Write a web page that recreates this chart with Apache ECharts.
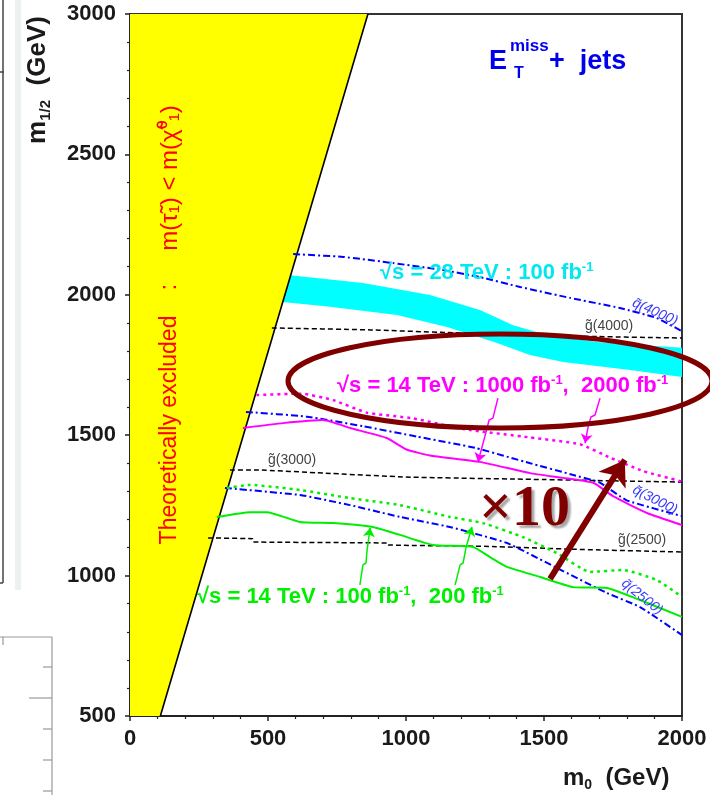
<!DOCTYPE html>
<html>
<head>
<meta charset="utf-8">
<script src="https://cdn.jsdelivr.net/npm/echarts@6/dist/echarts.min.js"></script>
<style>
    html, body { margin: 0; padding: 0; background: #fff; }
    #chartView { width: 710px; height: 795px; }
</style>
</head>
<body>
<div id="chartView"></div>
<script>
    // axis ticks
    var xTicks = [0, 500, 1000, 1500, 2000];
    var yTicks = [500, 1000, 1500, 2000, 2500, 3000];

    // theoretically excluded region (m0, m1/2)
    var excludedRegion = [[0, 500], [110, 500], [862, 3000], [0, 3000]];
    var excludedEdge = [[110, 500], [862, 3000]];

    // sqrt(s)=28 TeV, 100 fb-1 band
    var band28Upper = [[580, 2070], [844, 2042], [1087, 1999], [1268, 1946], [1388, 1892], [1511, 1857], [1692, 1832], [2000, 1811]];
    var band28Lower = [[553, 1974], [725, 1957], [967, 1928], [1149, 1885], [1330, 1828], [1449, 1786], [1569, 1761], [1812, 1732], [2000, 1707]];

    // iso-mass lines
    var squark4000 = [[591, 2145], [772, 2135], [953, 2113], [1134, 2088], [1268, 2063], [1413, 2028], [1594, 1989], [1775, 1953], [1909, 1917], [2000, 1870]];
    var gluino4000 = [[514, 1882], [870, 1875], [1196, 1864], [1600, 1853], [2000, 1846]];
    var squark3000 = [[420, 1583], [640, 1566], [844, 1532], [1040, 1495], [1250, 1455], [1450, 1400], [1600, 1360], [1700, 1332], [1800, 1268], [2000, 1212]];
    var gluino3000 = [[362, 1376], [460, 1376], [700, 1365], [1000, 1351], [1500, 1342], [2000, 1333]];
    var squark2500 = [[344, 1312], [616, 1287], [797, 1251], [978, 1209], [1159, 1173], [1366, 1116], [1547, 1027], [1728, 938], [1848, 888], [2000, 788]];
    var gluino2500 = [[283, 1134], [444, 1131], [446, 1120], [933, 1116], [935, 1109], [1300, 1104], [1600, 1094], [2000, 1084]];

    // 14 TeV reach curves
    var reach2000 = [[458, 1643], [620, 1648], [736, 1625], [859, 1580], [1025, 1560], [1207, 1522], [1449, 1492], [1630, 1468], [1740, 1420], [1860, 1372], [2000, 1335]];
    var reach1000 = [[409, 1526], [554, 1543], [700, 1554], [800, 1525], [930, 1490], [1004, 1448], [1087, 1428], [1268, 1405], [1449, 1365], [1569, 1348], [1680, 1330], [1750, 1283], [1873, 1223], [2000, 1180]];
    var reach200 = [[351, 1312], [435, 1323], [616, 1305], [797, 1276], [978, 1251], [1159, 1209], [1279, 1187], [1424, 1137], [1547, 1080], [1667, 1013], [1786, 1020], [1909, 984], [2000, 924]];
    var reach100 = [[315, 1209], [435, 1226], [496, 1226], [616, 1191], [736, 1187], [880, 1173], [978, 1145], [1098, 1109], [1243, 1102], [1304, 1066], [1366, 1031], [1486, 995], [1605, 959], [1728, 956], [1848, 913], [2000, 853]];

    // annotation arrows (shaft polyline, then head segment)
    var magentaShaft1 = [[1333, 1632], [1315, 1561], [1301, 1554], [1290, 1511]];
    var magentaHead1 = [[1290, 1511], [1261, 1405]];
    var magentaShaft2 = [[1703, 1632], [1685, 1572], [1670, 1565], [1659, 1526]];
    var magentaHead2 = [[1659, 1526], [1649, 1472]];
    var greenShaft1 = [[833, 967], [844, 1038], [855, 1045], [859, 1091]];
    var greenHead1 = [[859, 1091], [870, 1170]];
    var greenShaft2 = [[1178, 967], [1196, 1038], [1207, 1045], [1217, 1098]];
    var greenHead2 = [[1217, 1098], [1239, 1173]];
    var bigArrow = [[1522, 988], [1793, 1412]];

    var theFont = '"Liberation Sans", Arial, sans-serif';

    function polygonSeries(name, points, color, z) {
        return {
            name: name,
            type: 'custom',
            coordinateSystem: 'cartesian2d',
            silent: true,
            z: z,
            data: [points[0]],
            renderItem: function (params, api) {
                return {
                    type: 'polygon',
                    shape: { points: points.map(function (p) { return api.coord(p); }) },
                    style: { fill: color, stroke: 'none' }
                };
            }
        };
    }

    function curve(name, data, color, dash, width) {
        return {
            name: name,
            type: 'line',
            data: data,
            symbol: 'none',
            showSymbol: false,
            smooth: 0.15,
            silent: true,
            z: 4,
            lineStyle: { color: color, width: width, type: dash }
        };
    }

    function arrowLines(shafts, heads, color, width, headSize) {
        return [{
            type: 'lines',
            coordinateSystem: 'cartesian2d',
            polyline: true,
            silent: true,
            z: 6,
            lineStyle: { color: color, width: width, opacity: 1 },
            data: shafts.map(function (s) { return { coords: s }; })
        }, {
            type: 'lines',
            coordinateSystem: 'cartesian2d',
            silent: true,
            z: 6,
            symbol: ['none', 'arrow'],
            symbolSize: headSize,
            lineStyle: { color: color, width: width, opacity: 1 },
            data: heads.map(function (s) { return { coords: s }; })
        }];
    }

    function txt(x, y, text, font, color, extra) {
        var el = {
            type: 'text', x: x, y: y, z: 50, silent: true,
            style: {
                text: text, font: font, fill: color,
                textAlign: 'left', textVerticalAlign: 'middle', align: 'left', verticalAlign: 'middle'
            }
        };
        if (extra) {
            for (var k in extra) {
                if (k === 'style') {
                    for (var s in extra.style) el.style[s] = extra.style[s];
                } else {
                    el[k] = extra[k];
                }
            }
        }
        return el;
    }

    function reachLabel(x, y, parts, color) {
        var rich = {
            a: { font: 'bold 22px ' + theFont, fill: color, lineHeight: 25 },
            s: { font: 'bold 13px ' + theFont, fill: color, verticalAlign: 'top', lineHeight: 25 }
        };
        var text = parts.map(function (p, i) { return (i % 2 ? '{s|' : '{a|') + p + '}'; }).join('');
        return txt(x, y, text, 'bold 22px ' + theFont, color, { style: { rich: rich } });
    }

    var labelStyle = { fontFamily: theFont, fontWeight: 'bold', fontSize: 22, color: '#1a1a1a' };
    var lineColor = '#222';

    var option = {
        animation: false,
        backgroundColor: '#fff',
        grid: {
            left: 130, right: 28, top: 14, bottom: 79,
            show: true, borderColor: '#333', borderWidth: 2,
            outerBoundsMode: 'none'
        },
        xAxis: {
            type: 'value', min: 0, max: 2000, interval: 500,
            axisLine: { show: true, lineStyle: { color: lineColor, width: 2 } },
            axisTick: { show: true, inside: false, length: 5, lineStyle: { color: lineColor, width: 1.5 } },
            minorTick: { show: true, splitNumber: 5, length: 3, lineStyle: { color: lineColor, width: 1.2 } },
            splitLine: { show: false },
            axisLabel: Object.assign({ margin: 12, formatter: function (v) { return xTicks.indexOf(v) >= 0 ? String(v) : ''; } }, labelStyle)
        },
        yAxis: {
            type: 'value', min: 500, max: 3000, interval: 500,
            axisLine: { show: true, lineStyle: { color: lineColor, width: 2 } },
            axisTick: { show: true, inside: false, length: 5, lineStyle: { color: lineColor, width: 1.5 } },
            minorTick: { show: true, splitNumber: 5, length: 3, lineStyle: { color: lineColor, width: 1.2 } },
            splitLine: { show: false },
            axisLabel: Object.assign({ margin: 14, formatter: function (v) { return yTicks.indexOf(v) >= 0 ? String(v) : ''; } }, labelStyle)
        },
        series: [
            polygonSeries('band28', band28Upper.concat(band28Lower.slice().reverse()), '#00ffff', 2),
            polygonSeries('excluded', excludedRegion, '#ffff00', 3),
            curve('edge', excludedEdge, '#000', 'solid', 1.6),
            curve('q4000', squark4000, '#0000ff', [7, 3, 2, 3], 2),
            curve('g4000', gluino4000, '#000', [5, 3], 1.5),
            curve('q3000', squark3000, '#0000ff', [7, 3, 2, 3], 2),
            curve('g3000', gluino3000, '#000', [5, 3], 1.5),
            curve('q2500', squark2500, '#0000ff', [7, 3, 2, 3], 2),
            curve('g2500', gluino2500, '#000', [5, 3], 1.5),
            curve('r2000', reach2000, '#ff00ff', [3, 4], 2.5),
            curve('r1000', reach1000, '#ff00ff', 'solid', 2),
            curve('r200', reach200, '#00ee00', [3, 4], 2.5),
            curve('r100', reach100, '#00ee00', 'solid', 2)
        ]
            .concat(arrowLines([magentaShaft1, magentaShaft2], [magentaHead1, magentaHead2], '#ff00ff', 1.5, 9))
            .concat(arrowLines([greenShaft1, greenShaft2], [greenHead1, greenHead2], '#00ee00', 1.5, 9))
            .concat([{
                type: 'lines',
                coordinateSystem: 'cartesian2d',
                silent: true,
                z: 20,
                symbol: ['none', 'arrow'],
                symbolSize: 24,
                lineStyle: { color: '#800000', width: 6, opacity: 1 },
                data: [{ coords: bigArrow }]
            }]),
        graphic: [
            // remnants of the neighbouring figure on the slide
            { type: 'rect', shape: { x: 15, y: 0, width: 6, height: 590 }, style: { fill: '#eef2ee' }, silent: true },
            { type: 'line', shape: { x1: 3, y1: 0, x2: 3, y2: 583 }, style: { stroke: '#444', lineWidth: 1.5 }, silent: true },
            { type: 'line', shape: { x1: 0, y1: 583, x2: 3, y2: 583 }, style: { stroke: '#444', lineWidth: 1.5 }, silent: true },
            { type: 'line', shape: { x1: 0, y1: 72, x2: 4, y2: 72 }, style: { stroke: '#444', lineWidth: 1.5 }, silent: true },
            { type: 'line', shape: { x1: 0, y1: 637, x2: 52, y2: 637 }, style: { stroke: '#999', lineWidth: 1.2 }, silent: true },
            { type: 'line', shape: { x1: 52, y1: 637, x2: 52, y2: 795 }, style: { stroke: '#999', lineWidth: 1.2 }, silent: true },
            { type: 'line', shape: { x1: 3, y1: 637, x2: 3, y2: 645 }, style: { stroke: '#999', lineWidth: 1.2 }, silent: true },
            { type: 'line', shape: { x1: 43, y1: 667, x2: 52, y2: 667 }, style: { stroke: '#999', lineWidth: 1.2 }, silent: true },
            { type: 'line', shape: { x1: 29, y1: 698, x2: 52, y2: 698 }, style: { stroke: '#999', lineWidth: 1.2 }, silent: true },
            { type: 'line', shape: { x1: 43, y1: 729, x2: 52, y2: 729 }, style: { stroke: '#999', lineWidth: 1.2 }, silent: true },
            { type: 'line', shape: { x1: 43, y1: 760, x2: 52, y2: 760 }, style: { stroke: '#999', lineWidth: 1.2 }, silent: true },
            { type: 'line', shape: { x1: 43, y1: 791, x2: 52, y2: 791 }, style: { stroke: '#999', lineWidth: 1.2 }, silent: true },

            // axis names
            txt(38, 80, '{a|m}{b|1/2}{a|  (GeV)}', 'bold 26px ' + theFont, '#1a1a1a', {
                rotation: Math.PI / 2,
                style: {
                    textAlign: 'center', align: 'center',
                    rich: {
                        a: { font: 'bold 26px ' + theFont, fill: '#1a1a1a', lineHeight: 30 },
                        b: { font: 'bold 15px ' + theFont, fill: '#1a1a1a', verticalAlign: 'bottom', lineHeight: 30 }
                    }
                }
            }),
            txt(563, 778, '{a|m}{b|0}{a|  (GeV)}', 'bold 24px ' + theFont, '#1a1a1a', {
                style: {
                    rich: {
                        a: { font: 'bold 24px ' + theFont, fill: '#1a1a1a', lineHeight: 28 },
                        b: { font: 'bold 14px ' + theFont, fill: '#1a1a1a', verticalAlign: 'bottom', lineHeight: 28 }
                    }
                }
            }),

            // process label
            txt(489, 62, 'E', 'bold 27px ' + theFont, '#0000ee'),
            txt(510, 46, 'miss', 'bold 17px ' + theFont, '#0000ee'),
            txt(514, 74, 'T', 'bold 16px ' + theFont, '#0000ee'),
            txt(549, 62, '+  jets', 'bold 27px ' + theFont, '#0000ee'),

            // excluded-region label
            txt(170, 430, 'Theoretically excluded', '23px ' + theFont, '#ff0000', { rotation: Math.PI / 2, style: { textAlign: 'center', align: 'center' } }),
            txt(170, 287, ':', '23px ' + theFont, '#ff0000', { rotation: Math.PI / 2, style: { textAlign: 'center', align: 'center' } }),
            txt(170, 178, 'm(τ\u0303\u2081) < m(χ\u0303\u2070\u2081)', '24px ' + theFont, '#ff0000', { rotation: Math.PI / 2, style: { textAlign: 'center', align: 'center' } }),

            // reach labels
            reachLabel(380, 273, ['√s = 28 TeV : 100 fb', '-1'], '#00e8f0'),
            reachLabel(337, 386, ['√s = 14 TeV : 1000 fb', '-1', ',  2000 fb', '-1'], '#ff00ff'),
            reachLabel(197, 597, ['√s = 14 TeV : 100 fb', '-1', ',  200 fb', '-1'], '#00ee00'),

            // iso-mass labels
            txt(585, 326, 'g\u0303(4000)', '14px ' + theFont, '#444'),
            txt(268, 460, 'g\u0303(3000)', '14px ' + theFont, '#444'),
            txt(618, 540, 'g\u0303(2500)', '14px ' + theFont, '#444'),
            txt(655, 312, 'q\u0303(4000)', 'italic 14px ' + theFont, '#3a3aff', { rotation: -0.42, style: { textAlign: 'center', align: 'center' } }),
            txt(655, 500, 'q\u0303(3000)', 'italic 14px ' + theFont, '#3a3aff', { rotation: -0.47, style: { textAlign: 'center', align: 'center' } }),
            txt(642, 597, 'q\u0303(2500)', 'italic 14px ' + theFont, '#3a3aff', { rotation: -0.68, style: { textAlign: 'center', align: 'center' } }),

            // slide overlay: ellipse and x10
            { type: 'ellipse', z: 40, silent: true, shape: { cx: 500, cy: 381, rx: 212, ry: 47 }, style: { fill: 'none', stroke: '#800000', lineWidth: 5 } },
            txt(479, 510, '×10', 'bold 58px "Liberation Serif", "Times New Roman", serif', '#800000', {
                style: { textShadowColor: 'rgba(0,0,0,0.35)', textShadowOffsetX: 3, textShadowOffsetY: 3, textShadowBlur: 2 }
            })
        ]
    };

    var chartView = echarts.init(document.getElementById('chartView'));
    chartView.setOption(option);
</script>
</body>
</html>
